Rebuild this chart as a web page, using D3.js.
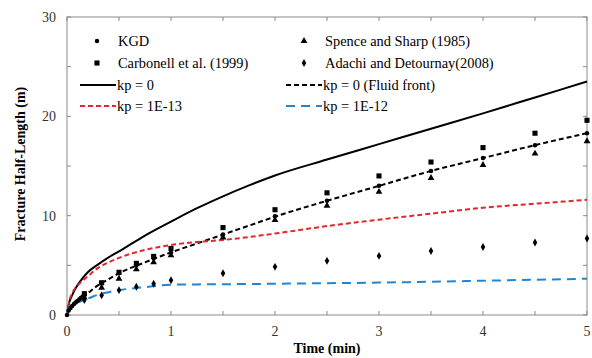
<!DOCTYPE html>
<html>
<head>
<meta charset="utf-8">
<script src="https://cdn.jsdelivr.net/npm/d3@7"></script>
<style>
  body { margin: 0; background: #fff; }
</style>
</head>
<body>
<div id="chart"></div>
<script>
// simulated curves (time in min, half-length in m)
var curveT = [0, 0.02, 0.05, 0.1, 0.15, 0.2, 0.3, 0.4, 0.5, 0.75, 1, 1.25, 1.5, 1.75, 2, 2.5, 3, 3.5, 4, 4.5, 5];
var kp0 = [0, 1.2, 2.0, 3.0, 3.7, 4.3, 5.1, 5.8, 6.4, 8.0, 9.4, 10.75, 11.95, 13.05, 14.05, 15.65, 17.2, 18.75, 20.3, 21.9, 23.5];
var kp0Front = [0, 0.5, 0.95, 1.4, 1.8, 2.2, 3.0, 3.6, 4.2, 5.3, 6.3, 7.2, 8.1, 9.0, 9.9, 11.5, 13.0, 14.5, 15.8, 17.1, 18.3];
var kp13 = [0, 1.3, 2.2, 2.95, 3.45, 3.9, 4.75, 5.3, 5.75, 6.55, 7.05, 7.35, 7.55, 7.85, 8.2, 8.95, 9.6, 10.2, 10.8, 11.2, 11.6];
var kp12 = [0, 0.9, 1.05, 1.25, 1.45, 1.65, 2.05, 2.3, 2.5, 2.8, 3.05, 3.08, 3.1, 3.12, 3.15, 3.2, 3.26, 3.35, 3.45, 3.55, 3.65];

// reference solutions
var kgdT = [0, 0.017, 0.033, 0.05, 0.067, 0.083, 0.1, 0.117, 0.133, 0.15, 0.167, 0.333, 0.5, 0.667, 0.833, 1, 1.5, 2, 2.5, 3, 3.5, 4, 4.5, 5];
var kgd = [0, 0.45, 0.7, 0.9, 1.1, 1.25, 1.4, 1.55, 1.7, 1.85, 2.0, 3.2, 4.2, 5.0, 5.7, 6.3, 8.1, 9.95, 11.5, 13.0, 14.5, 15.8, 17.1, 18.3];
var refT = [0.167, 0.333, 0.5, 0.667, 0.833, 1, 1.5, 2, 2.5, 3, 3.5, 4, 4.5, 5];
var carbonell = [2.15, 3.25, 4.3, 5.2, 5.9, 6.7, 8.8, 10.6, 12.3, 14.0, 15.4, 16.85, 18.3, 19.6];
var spence = [1.75, 2.75, 3.65, 4.6, 5.3, 6.0, 7.8, 9.55, 11.0, 12.4, 13.8, 15.1, 16.25, 17.5];
var adachi = [1.5, 1.98, 2.5, 2.85, 3.15, 3.5, 4.2, 4.85, 5.45, 5.95, 6.45, 6.85, 7.3, 7.7];

var xTicks = [0, 1, 2, 3, 4, 5];
var yTicks = [0, 10, 20, 30];

var width = 592, height = 358;
var margin = { left: 67, right: 5, top: 17, bottom: 43 };
var serif = "Liberation Serif";

var svg = d3
  .select("#chart")
  .append("svg")
  .attr("width", width)
  .attr("height", height);

var x = d3.scaleLinear().domain([0, 5]).range([margin.left, width - margin.right]);
var y = d3.scaleLinear().domain([0, 30]).range([height - margin.bottom, margin.top]);

// frame with inward ticks on all sides
var g = svg.append("g");
g.append("rect")
  .attr("x", x(0))
  .attr("y", y(30))
  .attr("width", x(5) - x(0))
  .attr("height", y(0) - y(30))
  .style("fill", "none")
  .style("stroke", "#8a8a8a")
  .style("stroke-width", 1);

d3.range(0, 5.01, 0.5).forEach(function(t) {
  g.append("line").attr("x1", x(t)).attr("x2", x(t)).attr("y1", y(0)).attr("y2", y(0) - 4)
    .style("stroke", "#8a8a8a");
  g.append("line").attr("x1", x(t)).attr("x2", x(t)).attr("y1", y(30)).attr("y2", y(30) + 4)
    .style("stroke", "#8a8a8a");
});
d3.range(0, 30.01, 5).forEach(function(v) {
  g.append("line").attr("x1", x(0)).attr("x2", x(0) + 4).attr("y1", y(v)).attr("y2", y(v))
    .style("stroke", "#8a8a8a");
  g.append("line").attr("x1", x(5)).attr("x2", x(5) - 4).attr("y1", y(v)).attr("y2", y(v))
    .style("stroke", "#8a8a8a");
});

xTicks.forEach(function(t) {
  g.append("text")
    .text(t)
    .attr("x", x(t))
    .attr("y", y(0) + 21)
    .attr("text-anchor", "middle")
    .style("font-family", serif)
    .style("font-size", "14px")
    .style("fill", "#333");
});
yTicks.forEach(function(v) {
  g.append("text")
    .text(v)
    .attr("x", x(0) - 11)
    .attr("y", y(v) + 5)
    .attr("text-anchor", "end")
    .style("font-family", serif)
    .style("font-size", "14px")
    .style("fill", "#333");
});

svg.append("text")
  .text("Time (min)")
  .attr("x", (x(0) + x(5)) / 2)
  .attr("y", 353)
  .attr("text-anchor", "middle")
  .style("font-family", serif)
  .style("font-size", "14px")
  .style("font-weight", "bold");
svg.append("text")
  .text("Fracture Half-Length (m)")
  .attr("transform", "translate(25," + (y(15) - 2) + ") rotate(-90)")
  .attr("text-anchor", "middle")
  .style("font-family", serif)
  .style("font-size", "14px")
  .style("font-weight", "bold");

// lines
var line = d3
  .line()
  .x(function(d) { return x(d[0]); })
  .y(function(d) { return y(d[1]); })
  .curve(d3.curveMonotoneX);

var curves = [
  { values: kp0, color: "#000", dash: null },
  { values: kp0Front, color: "#000", dash: "5,3" },
  { values: kp13, color: "#e3262b", dash: "5,3" },
  { values: kp12, color: "#1f86d6", dash: "9,6" }
];
curves.forEach(function(c) {
  svg.append("path")
    .datum(curveT.map(function(t, i) { return [t, c.values[i]]; }))
    .attr("d", line)
    .style("fill", "none")
    .style("stroke", c.color)
    .style("stroke-width", 2)
    .style("stroke-dasharray", c.dash);
});

// markers
var sym = {
  circle: d3.symbol().type(d3.symbolCircle).size(16),
  square: d3.symbol().type(d3.symbolSquare).size(26),
  triangle: d3.symbol().type(d3.symbolTriangle).size(20),
  diamond: d3.symbol().type(d3.symbolDiamond).size(18)
};
var drawMarkers = function(ts, vs, shape) {
  ts.forEach(function(t, i) {
    svg.append("path")
      .attr("d", sym[shape]())
      .attr("transform", "translate(" + x(t) + "," + y(vs[i]) + ")")
      .style("fill", "#000");
  });
};
drawMarkers(refT, carbonell, "square");
drawMarkers(refT, spence, "triangle");
drawMarkers(refT, adachi, "diamond");
drawMarkers(kgdT, kgd, "circle");

// legend
var legend = svg.append("g");
var legendText = function(label, tx, ty) {
  legend.append("text")
    .text(label)
    .attr("x", tx)
    .attr("y", ty)
    .style("font-family", serif)
    .style("font-size", "14.4px");
};
var legendMarker = function(mx, my, shape, label) {
  legend.append("path")
    .attr("d", sym[shape]())
    .attr("transform", "translate(" + mx + "," + my + ")")
    .style("fill", "#000");
  legendText(label, mx + 21, my + 5);
};
var legendLine = function(lx, ly, color, dash, label) {
  legend.append("line")
    .attr("x1", lx).attr("x2", lx + 36).attr("y1", ly).attr("y2", ly)
    .style("stroke", color)
    .style("stroke-width", 2)
    .style("stroke-dasharray", dash);
  legendText(label, lx + 37, ly + 5);
};
legendMarker(97, 41, "circle", "KGD");
legendMarker(97, 63, "square", "Carbonell et al. (1999)");
legendLine(80, 85, "#000", null, "kp = 0");
legendLine(80, 106, "#e3262b", "5,3", "kp = 1E-13");
legendMarker(304, 41, "triangle", "Spence and Sharp (1985)");
legendMarker(304, 63, "diamond", "Adachi and Detournay(2008)");
legendLine(286, 85, "#000", "5,3", "kp = 0 (Fluid front)");
legendLine(286, 106, "#1f86d6", "9,6", "kp = 1E-12");
</script>
</body>
</html>
